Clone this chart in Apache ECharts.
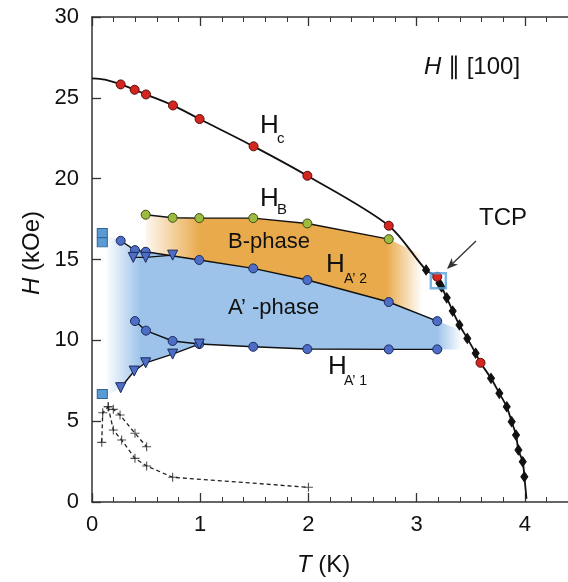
<!DOCTYPE html>
<html>
<head>
<meta charset="utf-8">
<script src="https://cdn.jsdelivr.net/npm/echarts@6/dist/echarts.min.js"></script>
<style>
html,body{margin:0;padding:0;background:#fff;}
#chart{width:568px;height:582px;}
</style>
</head>
<body>
<div id="chart"></div>
<script>
// ---------- data ----------
const xTicks = [0, 1, 2, 3, 4];
const yTicks = [0, 5, 10, 15, 20, 25, 30];

// Hc: red circles
const hcDots = [[0.265,25.83],[0.394,25.50],[0.499,25.21],[0.748,24.53],[0.994,23.69],[1.493,22.0],[1.99,20.18],[2.742,17.09],[3.19,13.93],[3.59,8.61]];
// Hc: black diamonds
const hcDiamonds = [[3.087,14.35],[3.21,13.53],[3.23,13.3],[3.278,12.63],[3.333,11.81],[3.395,10.95],[3.468,10.12],[3.545,9.2],[3.687,7.65],[3.764,6.72],[3.832,5.89],[3.878,4.97],[3.918,4.14],[3.94,3.22],[3.98,2.49],[3.995,1.56]];
// Hc curve ends (no markers)
const hcStart = [[0,26.2],[0.12,26.12]];
const hcEnd = [[4.015,0.2]];

// HB: green circles
const hbDots = [[0.496,17.77],[0.745,17.58],[0.991,17.56],[1.49,17.56],[1.99,17.23],[2.742,16.26]];
// HA'2: blue circles (upper)
const ha2Dots = [[0.265,16.16],[0.397,15.58],[0.496,15.48],[0.991,14.97],[1.49,14.45],[1.99,13.73],[2.742,12.37],[3.19,11.19]];
// HA'2: triangles (upper)
const ha2Tri = [[0.381,15.13],[0.496,15.13],[0.745,15.27]];
// HA'1: blue circles (lower)
const ha1Dots = [[0.397,11.19],[0.499,10.6],[0.745,9.96],[0.991,9.77],[1.49,9.6],[1.99,9.46],[2.742,9.44],[3.19,9.44]];
// HA'1: triangles (lower)
const ha1Tri = [[0.265,7.07],[0.39,8.1],[0.496,8.61],[0.745,9.15],[0.991,9.77]];
// blue squares
const squares = [[0.095,16.64],[0.095,16.06],[0.095,6.68]];
// TCP open square
const tcpPoint = [[3.2,13.68]];
// crosses, dashed branches
const crossUpper = [[0.09,3.69],[0.099,5.52],[0.15,5.89],[0.197,5.73],[0.259,5.38],[0.397,4.25],[0.505,3.42]];
const crossLower = [[0.15,5.89],[0.197,4.45],[0.274,3.83],[0.397,2.70],[0.505,2.23],[0.745,1.53],[2.0,0.91]];

// fading edges of the shaded phase regions
const bPhaseRight = [[3.05,15.3],[3.05,11.56]];
const aPhaseLeft = [[0.12,16.5],[0.12,6.5]];
const aPhaseRight = [[3.42,10.6],[3.42,9.44]];

// ---------- chart ----------
const FONT = '"Liberation Sans", Arial, Helvetica, sans-serif';
const chart = echarts.init(document.getElementById('chart'));

const hcCurve = hcStart.concat(hcDots, hcDiamonds, hcEnd).sort((a,b)=>a[0]-b[0]);

function fillPolygon(getPts, color, fadeIn0, fadeIn1, fadeOut0, fadeOut1) {
  return {
    type: 'custom',
    coordinateSystem: 'cartesian2d',
    data: [0],
    z: 1,
    silent: true,
    renderItem: function (params, api) {
      const pts = getPts().map(p => api.coord(p));
      const xa = api.coord([fadeIn0, 0])[0];
      const xb = api.coord([fadeOut1, 0])[0];
      const w = xb - xa;
      const s1 = (api.coord([fadeIn1, 0])[0] - xa) / w;
      const s2 = (api.coord([fadeOut0, 0])[0] - xa) / w;
      const c0 = 'rgba(' + color + ',0)';
      const cm = 'rgba(' + color + ',0.45)';
      const c1 = 'rgba(' + color + ',1)';
      return {
        type: 'polygon',
        shape: { points: pts },
        style: {
          fill: new echarts.graphic.LinearGradient(xa, 0, xb, 0, [
            { offset: 0, color: c0 },
            { offset: s1 * 0.45, color: cm },
            { offset: s1, color: c1 },
            { offset: s2, color: c1 },
            { offset: 1, color: c0 }
          ], true)
        }
      };
    }
  };
}

const bPhasePts = () => hbDots.concat(bPhaseRight,
  ha2Dots.filter(p => p[0] >= 0.49 && p[0] <= 3.05).slice().reverse());
const aPhasePts = () => [aPhaseLeft[0]].concat(ha2Dots, aPhaseRight,
  ha1Dots.filter(p => p[0] >= 0.99).slice().reverse(),
  ha1Tri.filter(p => p[0] < 0.99).slice().reverse(),
  [aPhaseLeft[1]]);

const lineBase = (data, extra) => Object.assign({
  type: 'line', data: data, symbol: 'none', smooth: false, z: 3,
  lineStyle: { color: '#111', width: 1.4 }, silent: true
}, extra || {});

const dotSeries = (data, symbol, size, color, border, extra) => Object.assign({
  type: 'scatter', data: data, symbol: symbol, symbolSize: size, z: 5, silent: true,
  itemStyle: { color: color, borderColor: border, borderWidth: 1, opacity: 1 }
}, extra || {});

const plusPath = 'path://M4.4,0h1.2v10h-1.2z M0,4.4h10v1.2h-10z';

const axisCommon = {
  type: 'value', min: 0, max: 4.5, interval: 1,
  axisLine: { show: true, lineStyle: { color: '#333', width: 1.5 } },
  axisTick: { show: true, inside: true, length: 9, lineStyle: { color: '#333', width: 1.3 } },
  minorTick: { show: true, splitNumber: 5, length: 5, lineStyle: { color: '#333', width: 1 } },
  splitLine: { show: false }
};

function sub(x, y, text, size) {
  return { type: 'text', x: x, y: y, silent: true, z: 50,
    style: { text: text, font: size + 'px ' + FONT, fill: '#111', textAlign: 'left', textVerticalAlign: 'middle' } };
}

// arrow (TCP)
const ax0 = 476, ay0 = 241, ax1 = 447, ay1 = 269;
const dl = Math.hypot(ax1 - ax0, ay1 - ay0);
const dx = (ax1 - ax0) / dl, dy = (ay1 - ay0) / dl;
const bcx = ax1 - dx * 11, bcy = ay1 - dy * 11;
const arrowHead = [[ax1, ay1], [bcx + dy * 4.5, bcy - dx * 4.5], [ax1 - dx * 8, ay1 - dy * 8], [bcx - dy * 4.5, bcy + dx * 4.5]];

const option = {
  animation: false,
  backgroundColor: '#fff',
  grid: { left: 92, top: 17, width: 487, height: 485, containLabel: false, outerBoundsMode: 'none' },
  xAxis: [
    Object.assign({}, axisCommon, {
      position: 'bottom',
      axisLabel: { show: true, margin: 12, fontSize: 22, fontFamily: FONT, color: '#111',
        formatter: v => (xTicks.indexOf(v) >= 0 ? String(v) : '') }
    }),
    Object.assign({}, axisCommon, {
      position: 'top',
      axisLabel: { show: false }
    })
  ],
  yAxis: {
    type: 'value', min: 0, max: 30, interval: 5,
    axisLine: { show: true, lineStyle: { color: '#333', width: 1.5 } },
    axisTick: { show: true, inside: true, length: 9, lineStyle: { color: '#333', width: 1.3 } },
    axisLabel: { margin: 13, fontSize: 22, fontFamily: FONT, color: '#111',
      formatter: v => (yTicks.indexOf(v) >= 0 ? String(v) : '') },
    splitLine: { show: false }
  },
  series: [
    fillPolygon(bPhasePts, '233,170,76', 0.45, 1.0, 2.72, 3.05),
    fillPolygon(aPhasePts, '157,195,234', 0.12, 0.45, 3.19, 3.42),

    // Hc curve
    lineBase(hcCurve, { smooth: 0.3, lineStyle: { color: '#111', width: 1.8 } }),
    lineBase(hbDots),
    lineBase(ha2Dots),
    lineBase(ha2Tri),
    lineBase(ha1Dots),
    lineBase(ha1Tri, { lineStyle: { color: '#111', width: 1.4, shadowColor: '#fff', shadowBlur: 0, shadowOffsetY: 2 } }),
    lineBase(crossUpper, { lineStyle: { color: '#222', width: 1.3, type: [4, 3] } }),
    lineBase(crossLower, { lineStyle: { color: '#222', width: 1.3, type: [4, 3] } }),

    dotSeries(hcDiamonds, 'diamond', [7, 10], '#111', '#111'),
    dotSeries(hcDots, 'circle', 9, '#D3261F', '#5a0d0b'),
    dotSeries(hbDots, 'circle', 9, '#9DBB3E', '#3d4e14'),
    dotSeries(ha2Dots, 'circle', 9, '#4D6EC4', '#1b2a5e'),
    dotSeries(ha1Dots, 'circle', 9, '#4D6EC4', '#1b2a5e'),
    dotSeries(ha2Tri, 'triangle', 10, '#4D6EC4', '#1b2a5e', { symbolRotate: 180 }),
    dotSeries(ha1Tri, 'triangle', 10, '#4D6EC4', '#1b2a5e', { symbolRotate: 180 }),
    dotSeries(squares, 'rect', [10, 9], '#5B9BD5', '#2F6496'),
    dotSeries(crossUpper.concat(crossLower), plusPath, 9, '#222', '#222', { itemStyle: { color: '#222', borderWidth: 0 } }),
    dotSeries(tcpPoint, 'rect', 15, 'rgba(0,0,0,0)', '#5BA3DC', { z: 6, itemStyle: { color: 'rgba(0,0,0,0)', borderColor: '#5BA3DC', borderWidth: 2.5 } })
  ],
  graphic: [
    // H || [100]
    { type: 'text', x: 424, y: 67, silent: true, style: { text: '{i|H} ∥ [100]', font: '24px ' + FONT, fill: '#111', textVerticalAlign: 'middle',
      rich: { i: { fontStyle: 'italic', fontSize: 24, fontFamily: FONT, fill: '#111' } } } },
    sub(260, 126, 'H', 26), sub(277, 139, 'c', 15),
    sub(260, 199, 'H', 26), sub(277, 210, 'B', 15),
    sub(228, 242, 'B-phase', 22),
    sub(326, 265, 'H', 26), sub(344, 279, 'A’ 2', 14),
    sub(228, 308, 'A’ -phase', 22),
    sub(328, 367, 'H', 26), sub(344, 381, 'A’ 1', 14),
    sub(479, 218, 'TCP', 24),
    // arrow
    { type: 'line', silent: true, shape: { x1: ax0, y1: ay0, x2: ax1 - dx * 6, y2: ay1 - dy * 6 }, style: { stroke: '#333', lineWidth: 1.3 } },
    { type: 'polygon', silent: true, shape: { points: arrowHead }, style: { fill: '#333' } },
    // axis names
    { type: 'text', x: 297, y: 565, silent: true, style: { text: '{i|T} (K)', font: '24px ' + FONT, fill: '#111', textVerticalAlign: 'middle',
      rich: { i: { fontStyle: 'italic', fontSize: 24, fontFamily: FONT, fill: '#111' } } } },
    { type: 'text', x: 32, y: 253, rotation: Math.PI / 2, silent: true, style: { text: '{i|H} (kOe)', font: '24px ' + FONT, fill: '#111', textAlign: 'center', textVerticalAlign: 'middle',
      rich: { i: { fontStyle: 'italic', fontSize: 24, fontFamily: FONT, fill: '#111' } } } }
  ]
};
chart.setOption(option);
</script>
</body>
</html>
